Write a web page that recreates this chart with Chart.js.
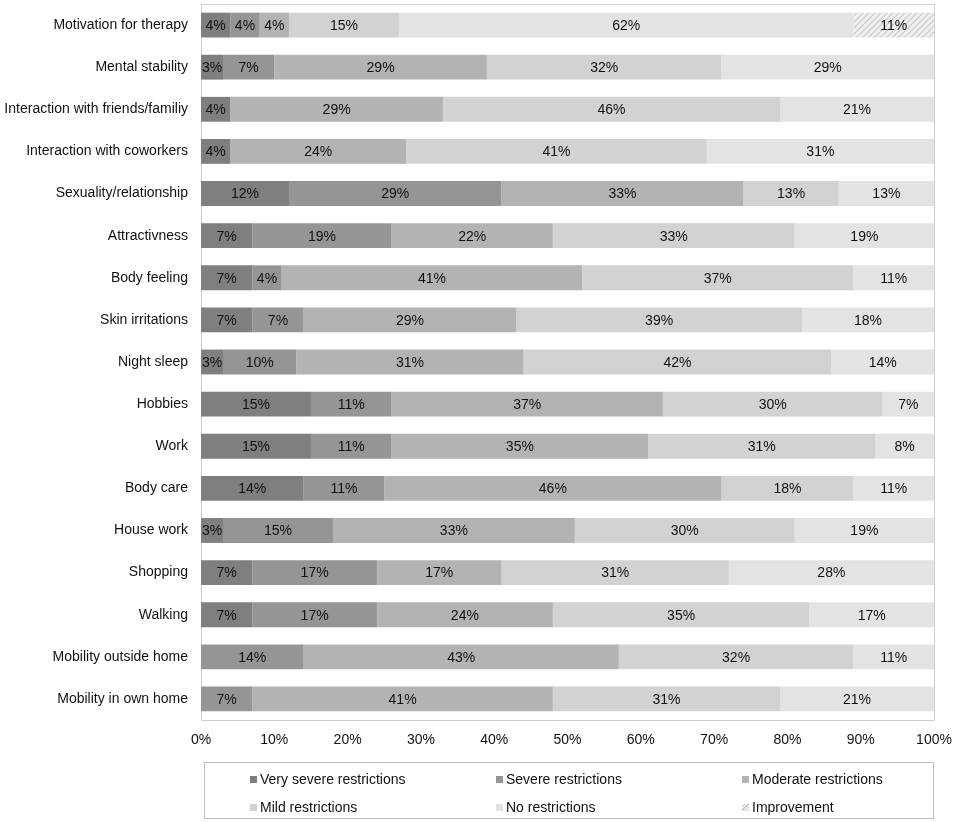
<!DOCTYPE html>
<html>
<head>
<meta charset="utf-8">
<script src="https://cdn.jsdelivr.net/npm/chart.js@4"></script>
<style>
  html, body { margin: 0; padding: 0; background: #fff; }
  #wrap { position: relative; width: 957px; height: 822px; }
  #legend { position: absolute; left: 204px; top: 762px; width: 730px; height: 57px;
            border: 1px solid #bdbdbd; box-sizing: border-box;
            font-family: "Liberation Sans", Arial, sans-serif; font-size: 14px; color: #111; }
  .li { position: absolute; white-space: nowrap; line-height: 16px; }
  .mk { display: inline-block; width: 7px; height: 7px; margin-right: 3px; vertical-align: 1px; }
</style>
</head>
<body>
<div id="wrap">
  <canvas id="c" width="957" height="822"></canvas>
  <div id="legend"></div>
</div>
<script>
const categories = [
  "Motivation for therapy", "Mental stability", "Interaction with friends/familiy",
  "Interaction with coworkers", "Sexuality/relationship", "Attractivness", "Body feeling",
  "Skin irritations", "Night sleep", "Hobbies", "Work", "Body care", "House work",
  "Shopping", "Walking", "Mobility outside home", "Mobility in own home"
];
const seriesNames = ["Very severe restrictions", "Severe restrictions", "Moderate restrictions",
  "Mild restrictions", "No restrictions", "Improvement"];
const verySevere  = [4, 3, 4, 4, 12, 7, 7, 7, 3, 15, 15, 14, 3, 7, 7, 0, 0];
const severe      = [4, 7, 0, 0, 29, 19, 4, 7, 10, 11, 11, 11, 15, 17, 17, 14, 7];
const moderate    = [4, 29, 29, 24, 33, 22, 41, 29, 31, 37, 35, 46, 33, 17, 24, 43, 41];
const mild        = [15, 32, 46, 41, 13, 33, 37, 39, 42, 30, 31, 18, 30, 31, 35, 32, 31];
const noRestr     = [62, 29, 21, 31, 13, 19, 11, 18, 14, 7, 8, 11, 19, 28, 17, 11, 21];
const improvement = [11, 0, 0, 0, 0, 0, 0, 0, 0, 0, 0, 0, 0, 0, 0, 0, 0];
const xTicks = [0, 10, 20, 30, 40, 50, 60, 70, 80, 90, 100];

const FONT = '"Liberation Sans", Arial, sans-serif';

function hatch() {
  const s = 6;
  const cv = document.createElement('canvas');
  cv.width = s; cv.height = s;
  const g = cv.getContext('2d');
  g.fillStyle = '#efefef';
  g.fillRect(0, 0, s, s);
  g.strokeStyle = '#c8c8c8';
  g.lineWidth = 1.1;
  g.beginPath();
  g.moveTo(0, s); g.lineTo(s, 0);
  g.moveTo(-s / 2, s / 2); g.lineTo(s / 2, -s / 2);
  g.moveTo(s / 2, s * 1.5); g.lineTo(s * 1.5, s / 2);
  g.stroke();
  return g.createPattern(cv, 'repeat');
}
const ctx = document.getElementById('c').getContext('2d');
const pat = hatch();
const colors = ['#7f7f7f', '#959595', '#b3b3b3', '#d2d2d2', '#e3e3e3', pat];
const seriesData = [verySevere, severe, moderate, mild, noRestr, improvement];

const labelPlugin = {
  id: 'segLabels',
  afterDatasetsDraw(chart) {
    const c = chart.ctx;
    c.save();
    c.font = '14px ' + FONT;
    c.fillStyle = '#111';
    c.textAlign = 'center';
    c.textBaseline = 'middle';
    chart.data.datasets.forEach((ds, i) => {
      const meta = chart.getDatasetMeta(i);
      meta.data.forEach((el, j) => {
        const v = ds.data[j];
        if (!v) return;
        c.fillText(v + '%', (el.x + el.base) / 2, el.y + 1);
      });
    });
    c.restore();
  }
};
const borderPlugin = {
  id: 'plotBorder',
  beforeDatasetsDraw(chart) {
    const a = chart.chartArea, c = chart.ctx;
    c.save();
    c.strokeStyle = '#cfcfcf';
    c.lineWidth = 1;
    c.strokeRect(Math.round(a.left) + 0.5, Math.round(a.top) + 0.5,
                 Math.round(a.right - a.left), Math.round(a.bottom - a.top));
    c.restore();
  }
};

new Chart(ctx, {
  type: 'bar',
  data: {
    labels: categories,
    datasets: seriesNames.map((n, i) => ({
      label: n,
      data: seriesData[i],
      backgroundColor: colors[i],
      borderWidth: 0,
      barPercentage: 0.59,
      categoryPercentage: 1.0
    }))
  },
  options: {
    indexAxis: 'y',
    responsive: false,
    animation: false,
    devicePixelRatio: 1,
    layout: { padding: { left: 0, right: 23, top: 4, bottom: 72 } },
    plugins: { legend: { display: false }, tooltip: { enabled: false } },
    scales: {
      x: {
        stacked: true, min: 0, max: 100,
        afterBuildTicks: (s) => { s.ticks = xTicks.map(v => ({ value: v })); },
        afterFit: (s) => { s.height = 30; s.paddingLeft = 0; s.paddingRight = 0; s.paddingTop = 0; s.paddingBottom = 0; },
        grid: { display: false, drawTicks: false },
        border: { display: false },
        ticks: { padding: 12, color: '#111', font: { family: FONT, size: 14 },
                 callback: (v) => v + '%', maxRotation: 0, autoSkip: false }
      },
      y: {
        stacked: true,
        afterFit: (s) => { s.width = 201; s.paddingLeft = 0; s.paddingRight = 0; s.paddingTop = 0; s.paddingBottom = 0; },
        grid: { display: false, drawTicks: false },
        border: { display: false },
        ticks: { padding: 13, color: '#111', font: { family: FONT, size: 14 }, autoSkip: false }
      }
    }
  },
  plugins: [borderPlugin, labelPlugin]
});

// legend
const lg = document.getElementById('legend');
const pos = [[45, 8], [291, 8], [537, 8], [45, 36], [291, 36], [537, 36]];
seriesNames.forEach((n, i) => {
  const d = document.createElement('div');
  d.className = 'li';
  d.style.left = pos[i][0] + 'px';
  d.style.top = pos[i][1] + 'px';
  const m = document.createElement('span');
  m.className = 'mk';
  if (i === 5) {
    m.style.background = 'repeating-linear-gradient(135deg, #f4f4f4 0 1.5px, #c4c4c4 1.5px 2.5px)';
  } else {
    m.style.background = colors[i];
  }
  d.appendChild(m);
  d.appendChild(document.createTextNode(n));
  lg.appendChild(d);
});
</script>
</body>
</html>
